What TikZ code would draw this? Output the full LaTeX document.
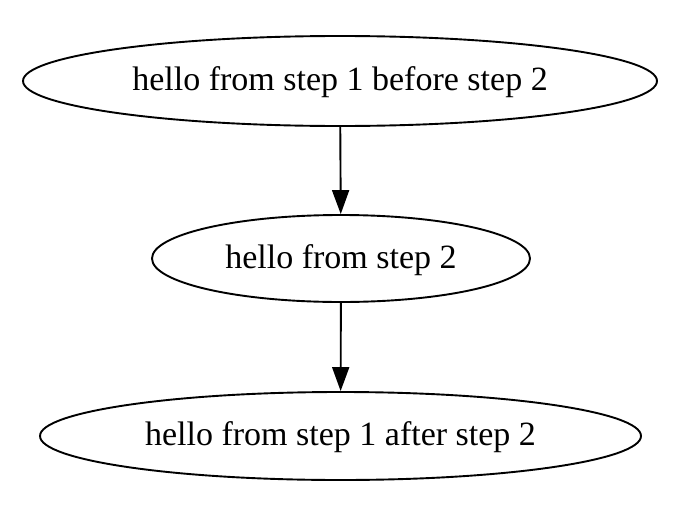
\documentclass[tikz,border=0pt]{standalone}
\usepackage{fontspec}
\setmainfont{Liberation Serif}
\usetikzlibrary{shapes.geometric,arrows.meta}
\begin{document}
\begin{tikzpicture}[x=1pt,y=-1pt,
  stepnode/.style={draw,ellipse,line width=1.9pt,inner sep=0pt,
    text height=27pt,text depth=7.4pt,
    font=\fontsize{34}{40}\selectfont},
  conn/.style={line width=1.9pt,-{Triangle[length=24pt,width=17pt]}}]
\useasboundingbox (0,0) rectangle (688,514);
\node[stepnode,minimum width=634pt,minimum height=90pt] (a) at (340,81) {hello from step 1 before step 2};
\node[stepnode,minimum width=378pt,minimum height=87pt] (b) at (341,258.5) {hello from step 2};
\node[stepnode,minimum width=601pt,minimum height=88pt] (c) at (340.5,436) {hello from step 1 after step 2};
\draw[conn] (a) -- (b);
\draw[conn] (b) -- (c);
\end{tikzpicture}
\end{document}
